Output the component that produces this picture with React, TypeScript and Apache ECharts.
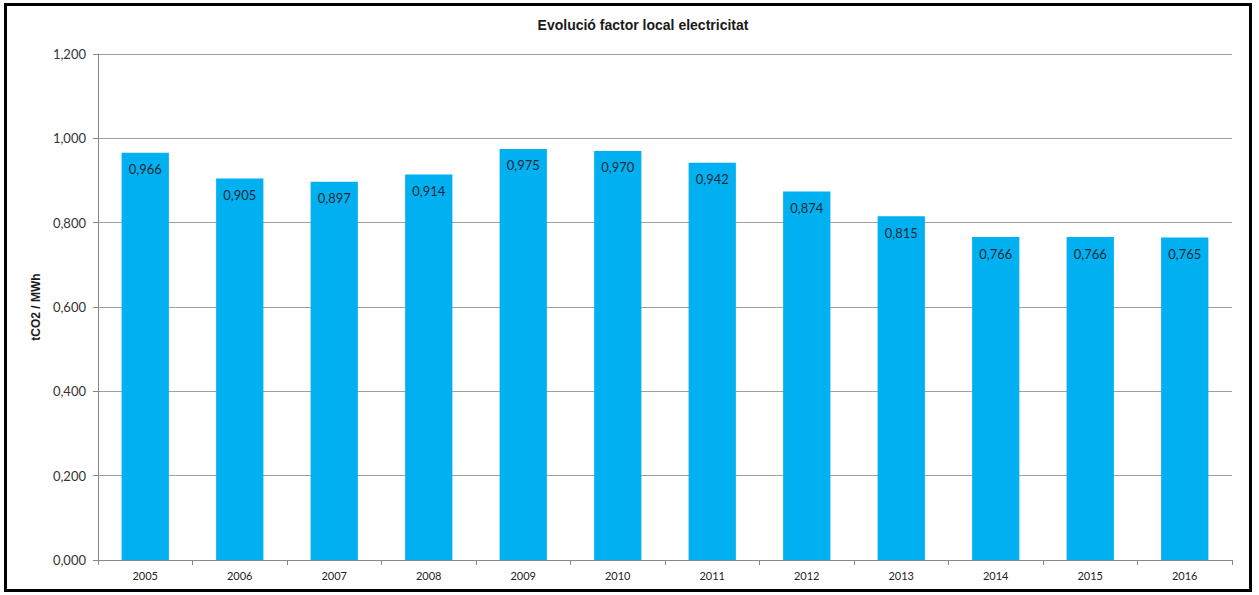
import React, { useEffect, useRef } from "react";
import * as echarts from "echarts";

const years = ["2005", "2006", "2007", "2008", "2009", "2010", "2011", "2012", "2013", "2014", "2015", "2016"];
const factorValues = [0.966, 0.905, 0.897, 0.914, 0.975, 0.97, 0.942, 0.874, 0.815, 0.766, 0.766, 0.765];
const chartTitle = "Evolució factor local electricitat";
const yAxisTitle = "tCO2 / MWh";

const fmt = (v: number) => v.toFixed(3).replace(".", ",");

export default function App() {
  const ref = useRef<HTMLDivElement>(null);
  useEffect(() => {
    if (!ref.current) return;
    const chart = echarts.init(ref.current, undefined, { renderer: "svg" });
    chart.setOption({
      animation: false,
      backgroundColor: "#ffffff",
      title: {
        text: chartTitle,
        left: 638,
        textAlign: "center",
        top: 13,
        textStyle: { fontFamily: "Liberation Sans", fontSize: 14, fontWeight: "bold", color: "#1a1a1a" },
      },
      graphic: [
        {
          type: "rect",
          shape: { x: 5.5, y: 4.5, width: 1245, height: 586 },
          style: { fill: "none", stroke: "#000000", lineWidth: 3 },
          silent: true,
        },
      ],
      grid: { left: 98, right: 27, top: 54, bottom: 35 },
      xAxis: {
        type: "category",
        data: years,
        axisLine: { lineStyle: { color: "#888888", width: 1 } },
        axisTick: { show: true, alignWithLabel: false, length: 5, lineStyle: { color: "#888888" } },
        axisLabel: { fontFamily: "Lato", fontSize: 11, color: "#222222", margin: 10 },
      },
      yAxis: {
        type: "value",
        min: 0,
        max: 1.2,
        interval: 0.2,
        name: yAxisTitle,
        nameLocation: "middle",
        nameGap: 52,
        nameRotate: 90,
        nameTextStyle: { fontFamily: "Liberation Sans", fontSize: 12, fontWeight: "bold", color: "#1a1a1a" },
        axisLine: { show: true, lineStyle: { color: "#888888" } },
        axisTick: { show: true, length: 5, lineStyle: { color: "#888888" } },
        axisLabel: { fontFamily: "Lato", fontSize: 13, color: "#333333", margin: 12, formatter: (v: number) => fmt(v) },
        splitLine: { lineStyle: { color: "#a0a0a0", width: 1 } },
      },
      series: [
        {
          type: "bar",
          data: factorValues,
          barWidth: "50%",
          itemStyle: { color: "#00B0F0" },
          label: {
            show: true,
            position: "insideTop",
            distance: 10,
            fontFamily: "Lato",
            fontSize: 13,
            color: "#1f2a36",
            formatter: (p: any) => fmt(p.value),
          },
        },
      ],
    });
    return () => chart.dispose();
  }, []);
  return <div ref={ref} style={{ position: "fixed", left: 0, top: 0, width: 1259, height: 595 }} />;
}
